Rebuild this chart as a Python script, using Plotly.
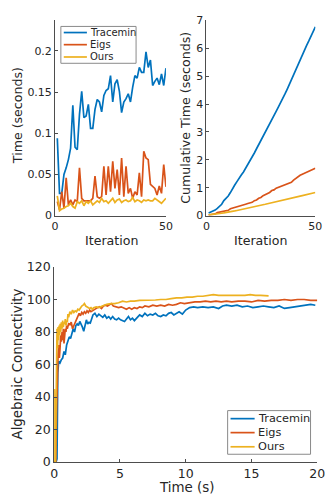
import numpy as np
import plotly.graph_objects as go

W, H = 333, 502
BLUE, ORANGE, YELLOW = "#0072BD", "#D95319", "#EDB120"
TXT = "#262626"
AX = "#4d4d4d"
FONT = "DejaVu Sans"

series_names = ["Tracemin", "Eigs", "Ours"]

# ---- per-iteration time (top-left) ----
iterations = list(range(1, 51))
tracemin_time = [0.094, 0.027, 0.027, 0.050, 0.058, 0.068, 0.082, 0.134, 0.083, 0.080,
                 0.123, 0.151, 0.119, 0.121, 0.135, 0.106, 0.106, 0.129, 0.141, 0.138,
                 0.126, 0.146, 0.152, 0.154, 0.170, 0.138, 0.160, 0.165, 0.151, 0.125,
                 0.138, 0.142, 0.148, 0.138, 0.156, 0.170, 0.167, 0.180, 0.174, 0.174,
                 0.199, 0.180, 0.189, 0.158, 0.163, 0.167, 0.159, 0.172, 0.158, 0.179]
eigs_time = [0.017, 0.007, 0.029, 0.009, 0.046, 0.013, 0.019, 0.013, 0.019, 0.017,
             0.058, 0.021, 0.018, 0.018, 0.018, 0.018, 0.021, 0.048, 0.023, 0.021,
             0.023, 0.060, 0.025, 0.060, 0.029, 0.066, 0.033, 0.056, 0.025, 0.070,
             0.023, 0.060, 0.027, 0.033, 0.021, 0.029, 0.025, 0.052, 0.023, 0.078,
             0.070, 0.068, 0.038, 0.035, 0.033, 0.025, 0.036, 0.027, 0.062, 0.035]
ours_time = [0.024, 0.006, 0.008, 0.009, 0.011, 0.012, 0.015, 0.011, 0.009, 0.017,
             0.015, 0.018, 0.012, 0.017, 0.015, 0.018, 0.013, 0.016, 0.018, 0.016,
             0.021, 0.017, 0.018, 0.015, 0.018, 0.021, 0.016, 0.019, 0.020, 0.016,
             0.018, 0.019, 0.017, 0.018, 0.022, 0.017, 0.019, 0.018, 0.016, 0.019,
             0.018, 0.019, 0.018, 0.018, 0.021, 0.019, 0.017, 0.015, 0.018, 0.021]

# ---- cumulative time (top-right) = running total of the per-iteration times ----
tracemin_cum = np.cumsum(tracemin_time)
eigs_cum = np.cumsum(eigs_time)
ours_cum = np.cumsum(ours_time)

# ---- algebraic connectivity vs time (bottom) ----
tracemin_t = [0.00, 0.15, 0.22, 0.28, 0.35, 0.45, 0.55, 0.65, 0.75, 0.85,
              0.95, 1.05, 1.15, 1.25, 1.35, 1.45, 1.55, 1.65, 1.75, 1.85,
              1.95, 2.05, 2.15, 2.25, 2.35, 2.45, 2.55, 2.65, 2.75, 2.85,
              2.95, 3.10, 3.25, 3.40, 3.55, 3.70, 3.85, 4.00, 4.15, 4.30,
              4.45, 4.60, 4.75, 4.90, 5.05, 5.20, 5.35, 5.50, 5.65, 5.80,
              5.95, 6.10, 6.30, 6.50, 6.70, 6.90, 7.10, 7.30, 7.50, 7.70,
              7.90, 8.10, 8.30, 8.50, 8.70, 8.90, 9.10, 9.30, 9.50, 9.75,
              10.0, 10.3, 10.6, 10.9, 11.3, 11.7, 12.1, 12.5, 12.8, 13.1,
              13.5, 13.9, 14.3, 14.7, 15.1, 15.5, 15.9, 16.3, 16.7, 17.1,
              17.5, 17.9, 18.3, 18.7, 19.1, 19.5, 19.85]
tracemin_ac = [0, 0, 2, 55, 62, 61, 63, 64, 68, 66,
               72, 75, 77, 76, 80, 82, 80, 84, 85, 84,
               86.5, 85, 83, 80.5, 84, 87.5, 85, 86, 85.5, 89,
               90.5, 91.5, 89.5, 91, 90, 89, 90.5, 88.5, 89.5, 88,
               89.5, 88, 87.5, 88.5, 87.5, 87, 86.5, 88, 89.5, 87.5,
               88.5, 87, 89, 90.5, 89.5, 91.5, 90, 91, 90.5, 91.5,
               90, 89.5, 90.5, 90, 91.5, 92, 90.5, 91.5, 92.5, 91,
               93.5, 95, 95.5, 95, 95.5, 95, 95.5, 94.5, 96, 96.5,
               96, 96.5, 95.5, 96, 95, 95.5, 96, 95.5, 95, 96,
               94.5, 95, 95.5, 96, 96.5, 97, 96.5]
eigs_t = [0.00, 0.12, 0.18, 0.25, 0.30, 0.35, 0.40, 0.45, 0.50, 0.55,
          0.60, 0.65, 0.70, 0.75, 0.80, 0.85, 0.90, 0.95, 1.00, 1.10,
          1.20, 1.30, 1.40, 1.50, 1.60, 1.70, 1.80, 1.90, 2.00, 2.10,
          2.20, 2.30, 2.40, 2.50, 2.60, 2.70, 2.80, 2.90, 3.00, 3.15,
          3.30, 3.45, 3.60, 3.75, 3.90, 4.05, 4.20, 4.35, 4.50, 4.70,
          4.90, 5.10, 5.30, 5.50, 5.70, 5.90, 6.10, 6.30, 6.50, 6.70,
          6.90, 7.20, 7.50, 7.80, 8.10, 8.40, 8.70, 9.00, 9.30, 9.60,
          9.90, 10.3, 10.7, 11.1, 11.5, 11.9, 12.3, 12.7, 13.1, 13.5,
          14.0, 14.5, 15.0, 15.5, 16.0, 16.5, 17.0, 17.5, 18.0, 18.5,
          19.0, 19.5, 20.0]
eigs_ac = [0, 0, 30, 62, 66, 72, 64, 70, 78, 74,
           80, 75, 82, 73, 79, 82, 80, 84, 82, 85,
           84.5, 86, 82, 84, 85.5, 87, 89, 91.5, 90, 92,
           91, 92.5, 91.5, 93, 92, 93.5, 92.5, 93, 94, 94.5,
           95, 95.5, 94.5, 96, 96.5, 96, 97, 97.5, 96, 95.5,
           95, 95.5, 94.5, 94, 95, 94, 95, 94.5, 95.5, 95,
           96, 95.5, 96.5, 96, 96.5, 96, 97, 96.5, 97, 98,
           97.5, 98, 98.5, 98.5, 99, 98.5, 99, 98.5, 99, 98.5,
           99, 99, 98.5, 99.5, 99, 99.5, 99.5, 100, 99.5, 100,
           100, 99.5, 99.5]
ours_t = [0.00, 0.02, 0.06, 0.10, 0.14, 0.18, 0.22, 0.26, 0.30, 0.34,
          0.38, 0.42, 0.46, 0.50, 0.55, 0.60, 0.65, 0.70, 0.75, 0.80,
          0.85, 0.90, 0.95, 1.00, 1.05, 1.10, 1.20, 1.30, 1.40, 1.50,
          1.60, 1.70, 1.80, 1.90, 2.00, 2.10, 2.20, 2.30, 2.40, 2.50,
          2.60, 2.70, 2.80, 2.90, 3.00, 3.20, 3.40, 3.60, 3.80, 4.00,
          4.30, 4.60, 4.90, 5.20, 5.50, 5.80, 6.10, 6.50, 6.90, 7.30,
          7.70, 8.10, 8.50, 8.90, 9.30, 9.70, 10.1, 10.5, 10.9, 11.3,
          11.7, 12.1, 12.5, 12.9, 13.3, 13.7, 14.1, 14.5, 14.9, 15.3,
          15.7, 16.0, 16.3]
ours_ac = [0, 45, 20, 0, 30, 65, 82, 70, 83, 75,
           84, 78, 85, 80, 86, 82, 87, 83, 86, 85,
           88, 84, 87, 86, 91, 89, 92.5, 91, 93.5, 92,
           93, 92.5, 94, 93.5, 95, 96, 96.5, 97.5, 96, 95.5,
           95, 94.5, 95, 94, 95, 95.5, 95, 96, 96.5, 97,
           97.5, 97.5, 98, 99, 98.5, 99, 99, 99.5, 99.5, 99.5,
           99.7, 100, 100, 100.5, 101, 101, 101.5, 101.5, 102, 102,
           102.5, 103, 102.5, 102.5, 102.5, 102.5, 102.5, 102.5, 103, 102.5,
           102.5, 102.5, 102.3]

# ticks
tl_yticks = [0, 0.05, 0.1, 0.15, 0.2]
tl_yticktext = ["0", "0.05", "0.1", "0.15", "0.2"]
iter_ticks = [0, 50]
cum_ticks = [0, 1, 2, 3, 4, 5, 6, 7]
time_ticks = [0, 5, 10, 15, 20]
ac_ticks = [0, 20, 40, 60, 80, 100, 120]

colors = [BLUE, ORANGE, YELLOW]
LW = 1.7

fig = go.Figure()
for name, col, y in zip(series_names, colors, [tracemin_time, eigs_time, ours_time]):
    fig.add_trace(go.Scatter(x=iterations, y=y, mode="lines", name=name,
                             line=dict(color=col, width=LW), xaxis="x", yaxis="y",
                             showlegend=False))
for name, col, y in zip(series_names, colors, [tracemin_cum, eigs_cum, ours_cum]):
    fig.add_trace(go.Scatter(x=iterations, y=y, mode="lines", name=name,
                             line=dict(color=col, width=LW), xaxis="x2", yaxis="y2",
                             showlegend=False))
for name, col, t, v in zip(series_names, colors,
                           [tracemin_t, eigs_t, ours_t],
                           [tracemin_ac, eigs_ac, ours_ac]):
    fig.add_trace(go.Scatter(x=t, y=v, mode="lines", name=name,
                             line=dict(color=col, width=LW), xaxis="x3", yaxis="y3",
                             showlegend=False))


def fx(px):
    return px / W


def fy(py):
    return 1 - py / H


def axis(domain, rng, tickvals, anchor, size, ticktext=None):
    d = dict(domain=domain, range=rng, tickvals=tickvals, anchor=anchor,
             showline=True, linecolor=AX, linewidth=1, ticks="inside", ticklen=3,
             tickcolor=AX, tickwidth=1, showgrid=False, zeroline=False,
             tickfont=dict(family=FONT, size=size, color=TXT), fixedrange=True)
    if ticktext is not None:
        d["ticktext"] = ticktext
    return d


fig.update_layout(
    width=W, height=H, autosize=False,
    margin=dict(l=0, r=0, t=0, b=0),
    paper_bgcolor="white", plot_bgcolor="white",
    font=dict(family=FONT, color=TXT),
    xaxis=axis([fx(53), fx(168)], [0, 50], iter_ticks, "y", 11),
    yaxis=axis([fy(214), fy(12)], [0, 0.238], tl_yticks, "x", 11, tl_yticktext),
    xaxis2=axis([fx(210), fx(323)], [0, 50], iter_ticks, "y2", 11),
    yaxis2=axis([fy(214), fy(12.7)], [0, 7], cum_ticks, "x2", 11),
    xaxis3=axis([fx(52), fx(325)], [0, 20], time_ticks, "y3", 12.5),
    yaxis3=axis([fy(468), fy(267)], [0, 120], ac_ticks, "x3", 12.5),
)

annotations = []
shapes = []


def title(text, x, y, size, angle=0):
    annotations.append(dict(text=text, x=fx(x), y=fy(y), xref="paper", yref="paper",
                            showarrow=False, textangle=angle, xanchor="center",
                            yanchor="middle", font=dict(family=FONT, size=size, color=TXT)))


title("Iteration", 111, 240, 12.6)
title("Iteration", 266.5, 240, 12.6)
title("Time (seconds)", 14, 111, 12.6, -90)
title("Cumulative Time (seconds)", 188, 113, 12.6, -90)
title("Time (s)", 189, 494, 13.4)
title("Algebraic Connectivity", 14, 367, 13.4, -90)


def legend(box, rows, line_x, text_x, size):
    x0, y0, x1, y1 = box
    shapes.append(dict(type="rect", xref="paper", yref="paper",
                       x0=fx(x0), x1=fx(x1), y0=fy(y1), y1=fy(y0),
                       line=dict(color="#8a8a8a", width=1), fillcolor="white", layer="above"))
    for name, col, yy in zip(series_names, colors, rows):
        shapes.append(dict(type="line", xref="paper", yref="paper",
                           x0=fx(line_x[0]), x1=fx(line_x[1]), y0=fy(yy), y1=fy(yy),
                           line=dict(color=col, width=LW), layer="above"))
        annotations.append(dict(text=name, x=fx(text_x), y=fy(yy), xref="paper", yref="paper",
                                showarrow=False, xanchor="left", yanchor="middle",
                                font=dict(family=FONT, size=size, color=TXT)))


legend((59, 19, 137, 57), [25.3, 37.8, 50.5], (62, 86), 87, 10)
legend((232, 415, 318, 460), [423.3, 437.7, 452.3], (235, 260), 261, 11.3)

fig.update_layout(annotations=annotations, shapes=shapes)
fig.write_html("out.html",
               config={"displayModeBar": False, "staticPlot": True},
               post_script="document.body.style.margin='0';document.body.style.overflow='hidden';")
